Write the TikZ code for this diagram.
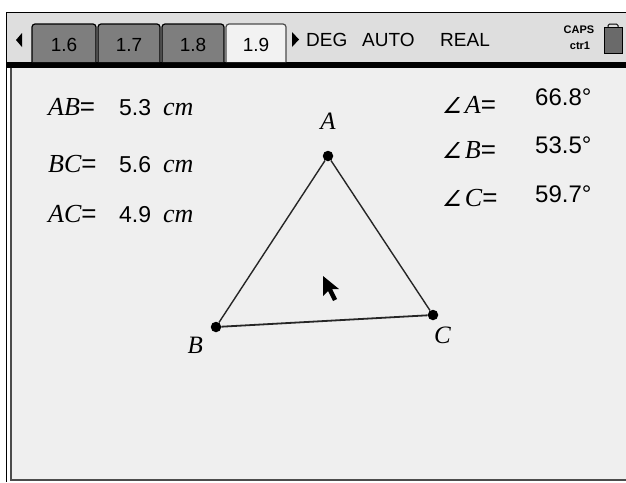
\documentclass[tikz,border=0pt]{standalone}
\usepackage{fontspec}
\setmainfont{Liberation Serif}
\newfontfamily\tisans{Liberation Sans}
\newfontfamily\angfont[FakeSlant=0.2]{DejaVu Sans}
\usetikzlibrary{positioning}

\definecolor{barbg}{HTML}{DEDEDE}
\definecolor{pagebg}{HTML}{EFEFEF}
\definecolor{tabdark}{HTML}{7E7E7E}
\definecolor{tablight}{HTML}{F2F2F2}
\definecolor{battery}{HTML}{6A6A6A}

\begin{document}
\begin{tikzpicture}[x=1pt, y=-1pt,
    tab/.style={draw=black, line width=1.2pt, fill=tabdark, rounded corners=3pt},
    tabon/.style={tab, draw=black!70, fill=tablight},
    barlbl/.style={inner sep=0pt, font=\tisans\fontsize{19}{19}\selectfont},
    meas/.style={anchor=base west, inner sep=0pt, font=\fontsize{26}{26}\selectfont\itshape},
    val/.style={anchor=base west, inner sep=0pt, font=\tisans\fontsize{23}{23}\selectfont},
    angval/.style={val, font=\tisans\fontsize{24}{24}\selectfont},
    pt/.style={circle, fill=black, inner sep=0pt, minimum size=10.5pt},
    ptlbl/.style={inner sep=0pt, font=\fontsize{25}{25}\selectfont\itshape},
    side/.style={draw=black!85, line width=1.4pt}]

  \useasboundingbox (0,0) rectangle (626,482);
  \fill[white] (0,0) rectangle (626,482);

  % window frame
  \fill[barbg] (6,12) rectangle (626,62);
  \fill[pagebg] (12,68) rectangle (626,479);
  \fill[black] (6,62) rectangle (626,68);
  \draw[line width=1.5pt] (626,12.5) -- (6.5,12.5) -- (6.5,482);
  \draw[black!70, line width=2pt] (11,68) -- (11,480) -- (626,480);

  % tabs
  \fill (22,33) -- (22,47) -- (16,40) -- cycle;
  \draw[tab] (32,62) -- (32,24) -- (96,24) -- (96,62);
  \draw[tab] (98,62) -- (98,24) -- (160,24) -- (160,62);
  \draw[tab] (162,62) -- (162,24) -- (224,24) -- (224,62);
  \draw[tabon] (226,62) -- (226,24) -- (286,24) -- (286,62);
  \node[barlbl] (t16) at (64,45) {1.6};
  \node[barlbl] (t17) at (129,45) {1.7};
  \node[barlbl] (t18) at (193,45) {1.8};
  \node[barlbl] (t19) at (256,45) {1.9};
  \fill (292,32) -- (292,47) -- (299,39.5) -- cycle;

  % status line
  \node[barlbl, anchor=west] (deg) at (306,40) {DEG};
  \node[barlbl, anchor=west] (auto) at (362,40) {AUTO};
  \node[barlbl, anchor=west] (real) at (440,40) {REAL};
  \node[inner sep=0pt, font=\tisans\bfseries\fontsize{11}{11}\selectfont] (caps) at (579,30) {CAPS};
  \node[inner sep=0pt, font=\tisans\bfseries\fontsize{11}{11}\selectfont] (ctrl) at (580,46) {ctr1};
  \draw[fill=battery, line width=1pt] (604,27) rectangle (622,53);
  \draw[line width=1pt, rounded corners=1.5pt] (608,27) -- (608,24) -- (618,24) -- (618,27);

  % lengths
  \node[meas] (ab) at (48,115) {AB{\upshape\tisans=}};
  \node[val] (abv) at (119,115) {5.3\hspace{12pt}{\rmfamily\itshape\fontsize{26}{26}\selectfont cm}};
  \node[meas] (bc) at (48,172) {BC{\upshape\tisans=}};
  \node[val] (bcv) at (119,172) {5.6\hspace{12pt}{\rmfamily\itshape\fontsize{26}{26}\selectfont cm}};
  \node[meas] (ac) at (48,222) {AC{\upshape\tisans=}};
  \node[val] (acv) at (119,222) {4.9\hspace{12pt}{\rmfamily\itshape\fontsize{26}{26}\selectfont cm}};

  % angles
  \node[meas] (anga) at (442,113) {{\angfont\upshape\fontsize{22}{22}\selectfont ∠}\hspace{3pt}A{\upshape\tisans=}};
  \node[angval] (angav) at (535,105) {66.8°};
  \node[meas] (angb) at (442,158) {{\angfont\upshape\fontsize{22}{22}\selectfont ∠}\hspace{3pt}B{\upshape\tisans=}};
  \node[angval] (angbv) at (535,153) {53.5°};
  \node[meas] (angc) at (442,206) {{\angfont\upshape\fontsize{22}{22}\selectfont ∠}\hspace{3pt}C{\upshape\tisans=}};
  \node[angval] (angcv) at (535,202) {59.7°};

  % triangle
  \node[pt] (A) at (328,156) {};
  \node[pt] (B) at (216,327) {};
  \node[pt] (C) at (433,315) {};
  \node[ptlbl, above=21pt of A] (lblA) {A};
  \node[ptlbl, below left=6pt and 9pt of B] (lblB) {B};
  \node[ptlbl, below right=8pt and -3pt of C] (lblC) {C};
  \draw[side] (A) -- (B);
  \draw[side, line width=1.8pt] (B) -- (C);
  \draw[side] (C) -- (A);

  % pointer
  \fill (323,276) -- (323,296) -- (328,291) -- (333,301) -- (337,299) -- (332,289) -- (339,289) -- cycle;
\end{tikzpicture}
\end{document}
